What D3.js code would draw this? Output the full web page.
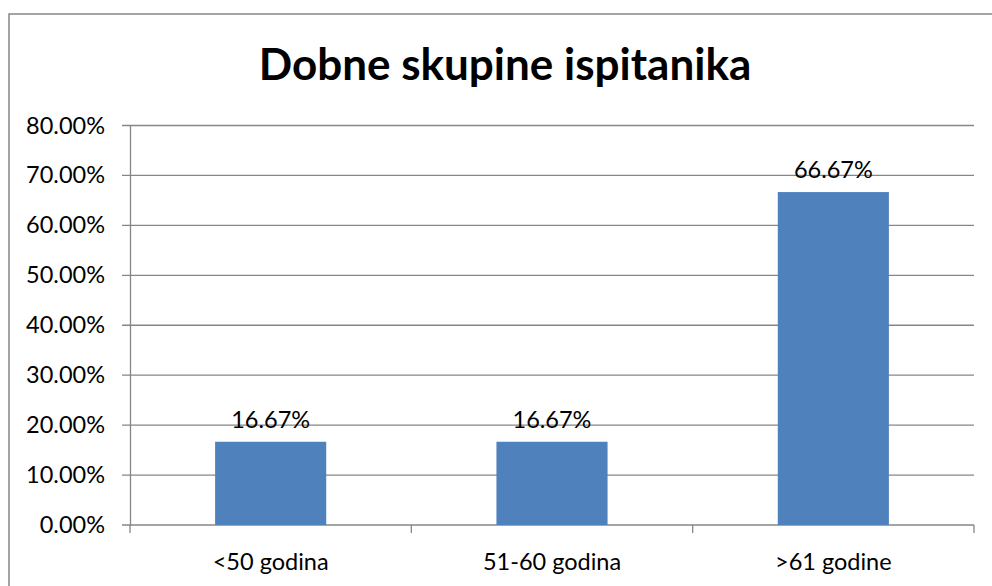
<!DOCTYPE html>
<html>
<head>
<meta charset="utf-8">
<script src="https://cdn.jsdelivr.net/npm/d3@7"></script>
<style>
  html, body { margin: 0; background: #fff; overflow: hidden; }
  svg { display: block; }
  text { font-family: Lato, "Open Sans", sans-serif; fill: #000; }
</style>
</head>
<body>
<div id="chart"></div>
<script>
var categories = ["<50 godina", "51-60 godina", ">61 godine"];
var values = [16.67, 16.67, 66.67];
var yTicks = [0, 10, 20, 30, 40, 50, 60, 70, 80];
var title = "Dobne skupine ispitanika";

var width = 992;
var height = 586;
var left = 130;
var right = 974;
var top_y = 125.5;
var bottom_y = 525;
var fontSize = 23.5;

var svg = d3
  .select("#chart")
  .append("svg")
  .attr("width", width)
  .attr("height", height);

svg
  .append("rect")
  .attr("width", width)
  .attr("height", height)
  .attr("fill", "#fff");

// outer frame: only left and top edges fall inside the picture
svg
  .append("path")
  .attr("d", "M9," + height + "V14H" + width)
  .attr("fill", "none")
  .attr("stroke", "#868686")
  .attr("stroke-width", 1.5);

svg
  .append("text")
  .attr("x", 505)
  .attr("y", 80)
  .attr("text-anchor", "middle")
  .attr("font-size", 44)
  .attr("font-weight", "bold")
  .text(title);

var xScale = d3
  .scaleBand()
  .domain(categories)
  .range([left, right])
  .paddingInner(0.605)
  .paddingOuter(0.3025);

var yScale = d3.scaleLinear().domain([0, 80]).range([bottom_y, top_y]);

// gridlines
svg
  .append("g")
  .selectAll("line")
  .data(yTicks)
  .enter()
  .append("line")
  .attr("x1", left - 8)
  .attr("x2", right)
  .attr("y1", function(d) { return yScale(d); })
  .attr("y2", function(d) { return yScale(d); })
  .attr("stroke", "#868686")
  .attr("stroke-width", 1.3);

// y axis
var yAxis = d3
  .axisLeft(yScale)
  .tickValues(yTicks)
  .tickSize(0)
  .tickPadding(25)
  .tickFormat(function(d) { return d.toFixed(2) + "%"; });

var gy = svg
  .append("g")
  .attr("transform", "translate(" + left + ",0)")
  .call(yAxis);
gy.select(".domain").attr("stroke", "#868686").attr("stroke-width", 1.3);
gy.selectAll("text").attr("font-size", fontSize).attr("font-family", "Lato");

// x axis
var xAxis = d3.axisBottom(xScale).tickSize(0).tickPadding(28);
var gx = svg
  .append("g")
  .attr("transform", "translate(0," + bottom_y + ")")
  .call(xAxis);
gx.select(".domain").remove();
gx.selectAll("text").attr("font-size", fontSize).attr("font-family", "Lato");

var step = xScale.step();
var bounds = [0, 1, 2, 3];
svg
  .append("g")
  .selectAll("line")
  .data(bounds)
  .enter()
  .append("line")
  .attr("x1", function(d) { return left + d * step; })
  .attr("x2", function(d) { return left + d * step; })
  .attr("y1", bottom_y)
  .attr("y2", bottom_y + 8)
  .attr("stroke", "#868686")
  .attr("stroke-width", 1.3);

// bars
svg
  .append("g")
  .selectAll("rect")
  .data(values)
  .enter()
  .append("rect")
  .attr("x", function(d, i) { return xScale(categories[i]); })
  .attr("width", xScale.bandwidth())
  .attr("y", function(d) { return yScale(d); })
  .attr("height", function(d) { return bottom_y - yScale(d); })
  .attr("fill", "#4f81bd");

svg
  .append("g")
  .selectAll("text")
  .data(values)
  .enter()
  .append("text")
  .attr("x", function(d, i) { return xScale(categories[i]) + xScale.bandwidth() / 2; })
  .attr("y", function(d) { return yScale(d) - 14; })
  .attr("text-anchor", "middle")
  .attr("font-size", fontSize)
  .text(function(d) { return d.toFixed(2) + "%"; });

// keep the right edge clear
svg
  .append("rect")
  .attr("x", 980)
  .attr("y", 16)
  .attr("width", 12)
  .attr("height", height)
  .attr("fill", "#fff");
</script>
</body>
</html>
